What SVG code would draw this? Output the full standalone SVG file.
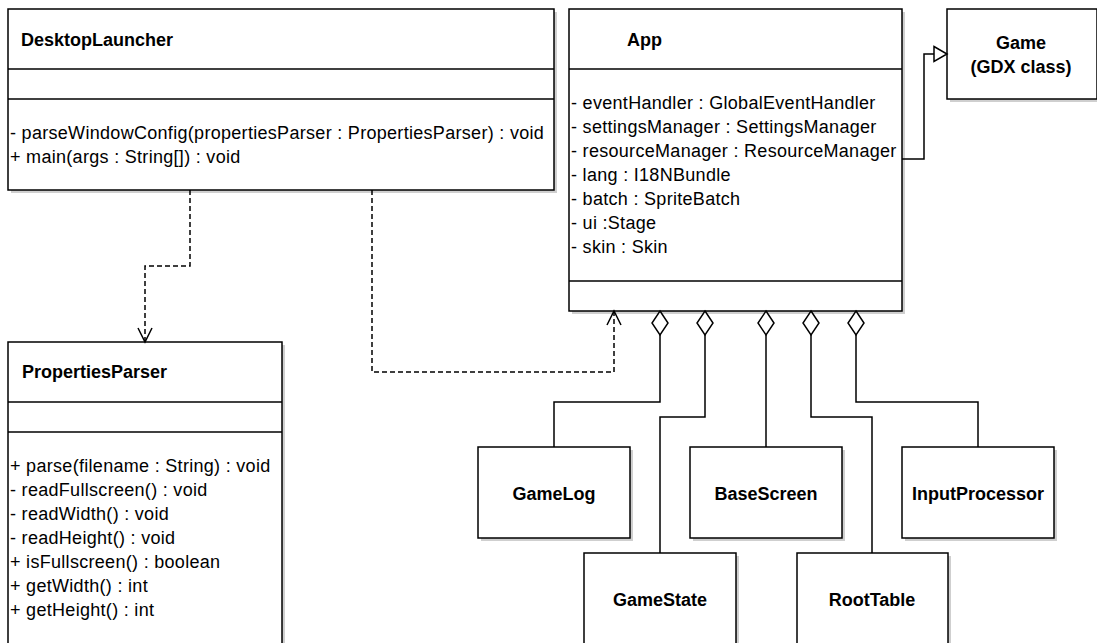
<svg xmlns="http://www.w3.org/2000/svg" width="1097" height="643" viewBox="0 0 1097 643">
  <style>
    .box { fill: #ffffff; stroke: #000000; stroke-width: 1.5; }
    .shadow { fill: #cfcfcf; }
    .div { stroke: #000000; stroke-width: 1.5; fill: none; }
    .title { font-family: "Liberation Sans", Arial, Helvetica, sans-serif; font-size: 18px; font-weight: bold; fill: #000000; }
    .member { font-family: "Liberation Sans", Arial, Helvetica, sans-serif; font-size: 18px; letter-spacing: 0.3px; fill: #000000; }
    .edge { stroke: #000000; stroke-width: 1.5; fill: none; }
    .dashed { stroke-dasharray: 5 3; }
    .head { stroke: #000000; stroke-width: 1.5; fill: #ffffff; }
    .open { stroke: #000000; stroke-width: 1.5; fill: none; }
  </style>
  <rect width="1097" height="643" fill="#ffffff"/>

  <!-- DesktopLauncher -->
  <g id="desktop-launcher">
    <rect class="shadow" x="11" y="12" width="546" height="181"/>
    <rect class="box" x="8" y="9" width="546" height="181"/>
    <line class="div" x1="8" y1="69" x2="554" y2="69"/>
    <line class="div" x1="8" y1="99" x2="554" y2="99"/>
    <text class="title" x="21" y="46">DesktopLauncher</text>
    <text class="member" x="10" y="139">- parseWindowConfig(propertiesParser : PropertiesParser) : void</text>
    <text class="member" x="10" y="163">+ main(args : String[]) : void</text>
  </g>

  <!-- App -->
  <g id="app">
    <rect class="shadow" x="572" y="12" width="333" height="302"/>
    <rect class="box" x="569" y="9" width="333" height="302"/>
    <line class="div" x1="569" y1="69" x2="902" y2="69"/>
    <line class="div" x1="569" y1="281" x2="902" y2="281"/>
    <text class="title" x="627" y="46">App</text>
    <text class="member" x="571" y="109">- eventHandler : GlobalEventHandler</text>
    <text class="member" x="571" y="133">- settingsManager : SettingsManager</text>
    <text class="member" x="571" y="157">- resourceManager : ResourceManager</text>
    <text class="member" x="571" y="181">- lang : I18NBundle</text>
    <text class="member" x="571" y="205">- batch : SpriteBatch</text>
    <text class="member" x="571" y="229">- ui :Stage</text>
    <text class="member" x="571" y="253">- skin : Skin</text>
  </g>

  <!-- Game (GDX class) -->
  <g id="game">
    <rect class="shadow" x="950" y="12" width="150" height="90"/>
    <rect class="box" x="947" y="9" width="150" height="90"/>
    <text class="title" x="1021" y="49" text-anchor="middle">Game</text>
    <text class="title" x="1021" y="73" text-anchor="middle">(GDX class)</text>
  </g>

  <!-- PropertiesParser -->
  <g id="properties-parser">
    <rect class="shadow" x="11" y="345" width="274" height="310"/>
    <rect class="box" x="8" y="342" width="274" height="310"/>
    <line class="div" x1="8" y1="402" x2="282" y2="402"/>
    <line class="div" x1="8" y1="432" x2="282" y2="432"/>
    <text class="title" x="22" y="378">PropertiesParser</text>
    <text class="member" x="10" y="472">+ parse(filename : String) : void</text>
    <text class="member" x="10" y="496">- readFullscreen() : void</text>
    <text class="member" x="10" y="520">- readWidth() : void</text>
    <text class="member" x="10" y="544">- readHeight() : void</text>
    <text class="member" x="10" y="568">+ isFullscreen() : boolean</text>
    <text class="member" x="10" y="592">+ getWidth() : int</text>
    <text class="member" x="10" y="616">+ getHeight() : int</text>
  </g>

  <!-- GameLog -->
  <g id="game-log">
    <rect class="shadow" x="481" y="450" width="152" height="91"/>
    <rect class="box" x="478" y="447" width="152" height="91"/>
    <text class="title" x="554" y="500" text-anchor="middle">GameLog</text>
  </g>

  <!-- BaseScreen -->
  <g id="base-screen">
    <rect class="shadow" x="693" y="450" width="152" height="91"/>
    <rect class="box" x="690" y="447" width="152" height="91"/>
    <text class="title" x="766" y="500" text-anchor="middle">BaseScreen</text>
  </g>

  <!-- InputProcessor -->
  <g id="input-processor">
    <rect class="shadow" x="905" y="450" width="152" height="91"/>
    <rect class="box" x="902" y="447" width="152" height="91"/>
    <text class="title" x="978" y="500" text-anchor="middle">InputProcessor</text>
  </g>

  <!-- GameState -->
  <g id="game-state">
    <rect class="shadow" x="587" y="556" width="152" height="100"/>
    <rect class="box" x="584" y="553" width="152" height="100"/>
    <text class="title" x="660" y="606" text-anchor="middle">GameState</text>
  </g>

  <!-- RootTable -->
  <g id="root-table">
    <rect class="shadow" x="800" y="556" width="151" height="100"/>
    <rect class="box" x="797" y="553" width="151" height="100"/>
    <text class="title" x="872" y="606" text-anchor="middle">RootTable</text>
  </g>

  <!-- connectors -->
  <g id="connectors">
    <!-- dependency: DesktopLauncher uses PropertiesParser -->
    <path class="edge dashed" d="M190 190 V266 H145 V341"/>
    <path class="open" d="M138 328 L145 342 L152 328"/>

    <!-- dependency: DesktopLauncher uses App -->
    <path class="edge dashed" d="M372 190 V372 H614 V312"/>
    <path class="open" d="M607 325 L614 311 L621 325"/>

    <!-- generalization: App extends Game -->
    <path class="edge" d="M902 159 H924 V54 H934"/>
    <path class="head" d="M934 46.5 L947 54 L934 61.5 Z"/>

    <!-- aggregations from App -->
    <path class="edge" d="M660 335 V402 H554 V447"/>
    <path class="head" d="M660 311 L668 323 L660 335 L652 323 Z"/>

    <path class="edge" d="M705 335 V417 H660 V553"/>
    <path class="head" d="M705 311 L713 323 L705 335 L697 323 Z"/>

    <path class="edge" d="M766 335 V447"/>
    <path class="head" d="M766 311 L774 323 L766 335 L758 323 Z"/>

    <path class="edge" d="M811 335 V417 H872 V553"/>
    <path class="head" d="M811 311 L819 323 L811 335 L803 323 Z"/>

    <path class="edge" d="M856 335 V402 H978 V447"/>
    <path class="head" d="M856 311 L864 323 L856 335 L848 323 Z"/>
  </g>
</svg>
